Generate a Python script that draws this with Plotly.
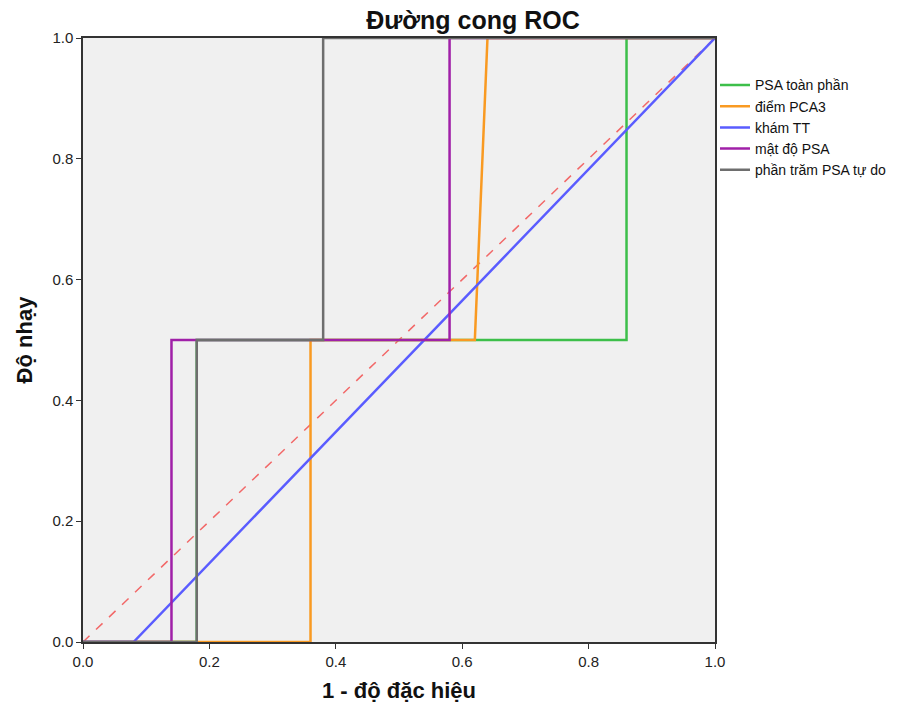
import plotly.graph_objects as go

names = ["PSA toàn phần", "điểm PCA3", "khám TT", "mật độ PSA", "phần trăm PSA tự do"]
colors = ["#3dbf4a", "#f99a22", "#5a5cff", "#a020a8", "#6e6e6e"]
xs = [
    [0.0, 0.18, 0.18, 0.86, 0.86, 1.0],
    [0.0, 0.36, 0.36, 0.62, 0.64, 1.0],
    [0.0, 0.08, 1.0],
    [0.0, 0.14, 0.14, 0.58, 0.58, 1.0],
    [0.0, 0.18, 0.18, 0.38, 0.38, 1.0],
]
ys = [
    [0.0, 0.0, 0.5, 0.5, 1.0, 1.0],
    [0.0, 0.0, 0.5, 0.5, 1.0, 1.0],
    [0.0, 0.0, 1.0],
    [0.0, 0.0, 0.5, 0.5, 1.0, 1.0],
    [0.0, 0.0, 0.5, 0.5, 1.0, 1.0],
]
ref_x = [0.0, 1.0]
ref_y = [0.0, 1.0]
tick_vals = [0.0, 0.2, 0.4, 0.6, 0.8, 1.0]
tick_text = ["0.0", "0.2", "0.4", "0.6", "0.8", "1.0"]

fig = go.Figure()
fig.add_trace(go.Scatter(x=ref_x, y=ref_y, mode="lines", showlegend=False,
                         line=dict(color="#f26868", width=1.5, dash="dash"), hoverinfo="skip"))
for n, c, x, y in zip(names, colors, xs, ys):
    fig.add_trace(go.Scatter(x=x, y=y, mode="lines", name=n, line=dict(color=c, width=2.5)))

font = "Liberation Sans, Arial, sans-serif"
fig.update_layout(
    width=911, height=711,
    margin=dict(l=83, r=196, t=38, b=69),
    paper_bgcolor="white", plot_bgcolor="#f0f0f0",
    font=dict(family=font, size=15, color="#222"),
    title=dict(text="<b>Đường cong ROC</b>", font=dict(size=25, color="#111"),
               x=(473 - 83) / 632, xref="paper", xanchor="center", y=0.972, yref="container", yanchor="middle"),
    legend=dict(x=1.0, xanchor="left", y=0.948, yanchor="top", bgcolor="rgba(0,0,0,0)",
                font=dict(size=14, color="#111"), tracegroupgap=0, itemwidth=30),
    showlegend=True,
)
fig.update_xaxes(range=[0, 1], tickvals=tick_vals, ticktext=tick_text, ticks="outside", ticklen=5,
                 tickcolor="#333", showgrid=False, zeroline=False, showline=True, linecolor="#333",
                 linewidth=1.5, mirror=True,
                 title=dict(text="<b>1 - độ đặc hiệu</b>", font=dict(size=22, color="#111"), standoff=14))
fig.update_yaxes(range=[0, 1], tickvals=tick_vals, ticktext=tick_text, ticks="outside", ticklen=5,
                 tickcolor="#333", showgrid=False, zeroline=False, showline=True, linecolor="#333",
                 linewidth=1.5, mirror=True,
                 title=dict(text="<b>Độ nhạy</b>", font=dict(size=22, color="#111"), standoff=14))
fig.write_html("out.html")
